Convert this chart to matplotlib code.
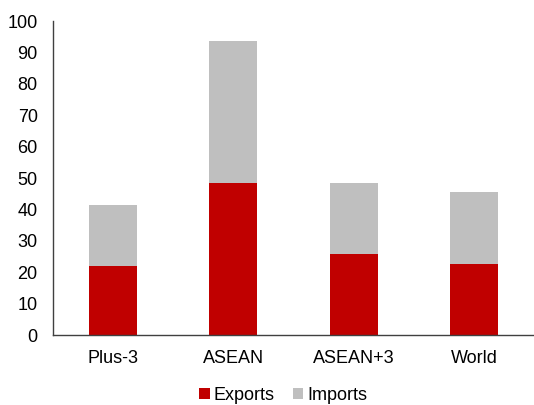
import matplotlib
matplotlib.use("Agg")
import matplotlib.pyplot as plt
import numpy as np

# Data
categories = ["Plus-3", "ASEAN", "ASEAN+3", "World"]
exports = [22.1, 48.3, 25.8, 22.6]
imports = [19.4, 45.5, 22.7, 22.8]

plt.rcParams["font.family"] = ["Liberation Sans", "DejaVu Sans"]

fig = plt.figure(figsize=(5.34, 4.05), dpi=100)
ax = fig.add_axes([0.0993, 0.1728, 0.9007, 0.7752])

x = np.arange(len(categories))
width = 0.4
ax.bar(x, exports, width, color="#C00000", label="Exports")
ax.bar(x, imports, width, bottom=exports, color="#BFBFBF", label="Imports")

ax.set_xlim(-0.5, len(categories) - 0.5)
ax.set_ylim(0, 100)
ax.set_yticks(np.arange(0, 101, 10))
ax.set_xticks(x)
ax.set_xticklabels(categories)
ax.tick_params(axis="both", length=0, labelsize=13, colors="black")
ax.tick_params(axis="x", pad=11)
ax.tick_params(axis="y", pad=11)

for side in ["top", "right"]:
    ax.spines[side].set_visible(False)
for side in ["left", "bottom"]:
    ax.spines[side].set_color("#404040")
    ax.spines[side].set_linewidth(1.0)

fig.legend(loc="center", bbox_to_anchor=(0.53, 0.024), ncol=2, frameon=False,
           fontsize=13, handlelength=0.6, handleheight=0.6, handletextpad=0.2,
           columnspacing=1.0, borderpad=0.1)

fig.savefig("out.png", dpi=100)
